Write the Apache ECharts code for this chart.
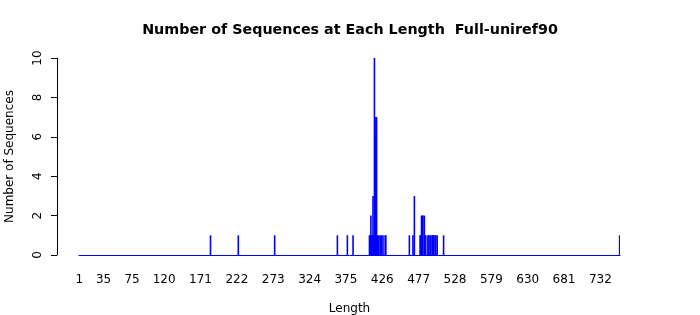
<!DOCTYPE html>
<html>
<head>
<meta charset="utf-8">
<script src="https://cdn.jsdelivr.net/npm/echarts@6/dist/echarts.min.js"></script>
<style>html,body{margin:0;padding:0;background:#fff}#c{width:700px;height:315px}</style>
</head>
<body>
<div id="c"></div>
<script>
var maxLength = 759;
var lengths = [185, 224, 275, 363, 377, 385,
  408, 409, 410, 411, 412, 413, 414, 415, 416, 417, 418, 419, 421, 423, 425, 427, 430, 431,
  464, 469, 471, 479, 480, 481, 482, 483, 485, 486, 487, 490, 491, 493, 494, 496, 497, 498, 500, 501, 503, 512,
  759];
var counts = [1, 1, 1, 1, 1, 1,
  1, 1, 2, 1, 1, 3, 1, 10, 6, 7, 7, 1, 1, 1, 1, 1, 1, 1,
  1, 1, 3, 1, 1, 2, 2, 2, 2, 1, 1, 1, 1, 1, 1, 1, 1, 1, 1, 1, 1, 1,
  1];
var shownLabels = ['1', '35', '75', '120', '171', '222', '273', '324', '375', '426', '477', '528', '579', '630', '681', '732'];
var yTicks = [0, 2, 4, 6, 8, 10];

var categories = [];
var values = [];
for (var i = 1; i <= maxLength; i++) { categories.push(String(i)); values.push(0); }
lengths.forEach(function (len, k) { values[len - 1] = counts[k]; });
var labelSet = {};
shownLabels.forEach(function (s) { labelSet[s] = true; });

var chart = echarts.init(document.getElementById('c'), null, {renderer: 'canvas'});
chart.setOption({
  animation: false,
  backgroundColor: '#ffffff',
  textStyle: {fontFamily: 'DejaVu Sans'},
  title: {
    text: 'Number of Sequences at Each Length  Full-uniref90',
    left: 'center', top: 18,
    textStyle: {fontFamily: 'DejaVu Sans', fontWeight: 'bold', fontSize: 14.3, color: '#000'}
  },
  grid: {left: 79, right: 80, top: 58, bottom: 60, containLabel: false, outerBoundsMode: 'none'},
  xAxis: {
    type: 'category',
    data: categories,
    boundaryGap: true,
    name: 'Length',
    nameLocation: 'middle',
    nameGap: 48,
    nameTextStyle: {fontFamily: 'DejaVu Sans', fontSize: 12, color: '#000'},
    axisLine: {show: true, lineStyle: {color: '#0000ff', width: 1}},
    axisTick: {show: false},
    axisLabel: {
      interval: function (idx, val) { return !!labelSet[val]; },
      hideOverlap: false,
      margin: 19,
      fontFamily: 'DejaVu Sans', fontSize: 12, color: '#000'
    },
    splitLine: {show: false}
  },
  yAxis: {
    type: 'value',
    min: yTicks[0], max: yTicks[yTicks.length - 1], interval: 2,
    offset: 22,
    name: 'Number of Sequences',
    nameLocation: 'middle',
    nameGap: 41,
    nameTextStyle: {fontFamily: 'DejaVu Sans', fontSize: 12, color: '#000'},
    axisLine: {show: true, lineStyle: {color: '#000', width: 1}},
    axisTick: {show: true, length: 6, lineStyle: {color: '#000'}},
    axisLabel: {rotate: 90, margin: 13, fontFamily: 'DejaVu Sans', fontSize: 12, color: '#000'},
    splitLine: {show: false}
  },
  series: [{
    type: 'bar',
    data: values,
    barWidth: 1.6,
    itemStyle: {color: '#0000ff'},
    emphasis: {disabled: true},
    silent: true
  }]
});
</script>
</body>
</html>
